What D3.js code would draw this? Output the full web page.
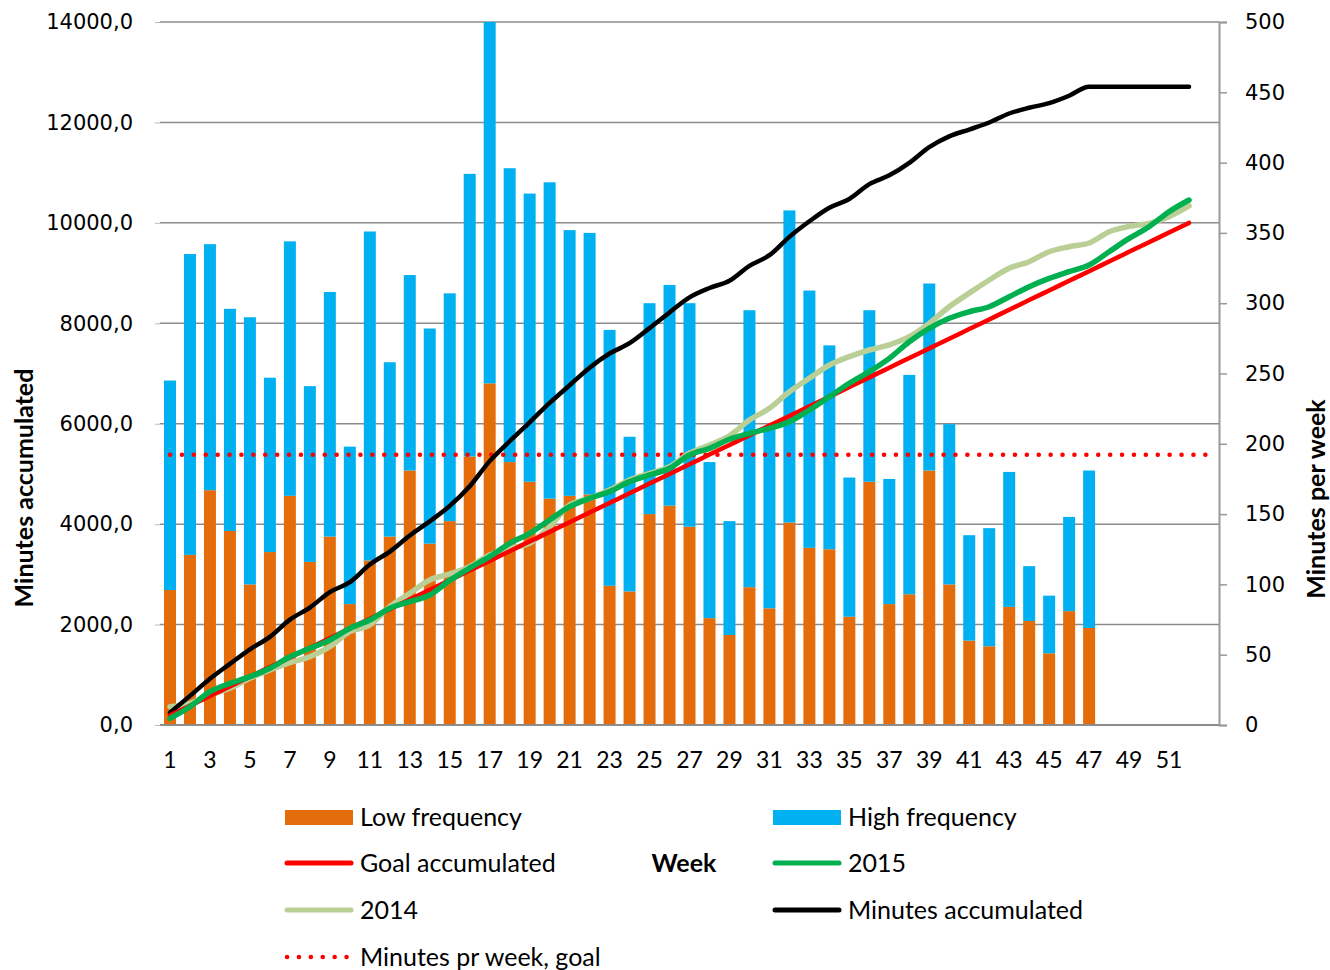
<!DOCTYPE html>
<html>
<head>
<meta charset="utf-8">
<script src="https://cdn.jsdelivr.net/npm/d3@7"></script>
<style>
  body { margin:0; background:#fff; }
  svg text { fill:#000; }
</style>
</head>
<body>
<div id="chart"></div>
<script>
// weeks 1..53 (53 is an empty slot, no label)
var weeks = d3.range(1, 54)
var weekLabels = weeks.map(w => (w % 2 === 1 && w < 53) ? String(w) : "")

// minutes per week (right axis)
var lowFreq = [96,121,167,138,100,123,163,116,134,86, 117,134,181,129,145,191,243,187,173,161,
  163,164,99,95,150,156,141,76,64,98, 83,144,126,125,77,173,86,93,181,100, 60,56,84,74,51,81,69]
var highFreq = [149,214,175,158,190,124,181,125,174,112, 234,124,139,153,162,201,257,209,205,225,
  189,186,182,110,150,157,159,111,81,197, 129,222,183,145,99,122,89,156,133,114, 75,84,96,39,41,67,112]
var weeklyGoal = 192.3

// accumulated minutes (left axis)
var goalAcc = [192,385,577,769,962,1154,1346,1538,1731,1923, 2115,2308,2500,2692,2885,3077,3269,3462,3654,3846,
  4038,4231,4423,4615,4808,5000,5192,5385,5577,5769, 5962,6154,6346,6538,6731,6923,7115,7308,7500,7692,
  7885,8077,8269,8462,8654,8846,9038,9231,9423,9615, 9808,10000]
var acc2015 = [133,365,663,829,962,1129,1360,1527,1693,1925, 2091,2324,2456,2589,2880,3127,3353,3618,3817,4082,
  4348,4514,4647,4846,4979,5112,5377,5510,5690,5808, 5908,6040,6273,6539,6805,7037,7302,7633,7899,8099,
  8230,8330,8529,8728,8894,9029,9161,9425,9690,9923, 10222,10455]
var acc2014 = [365,432,597,731,930,1095,1241,1360,1560,1858, 1991,2357,2623,2888,3008,3153,3386,3518,3618,3949,
  4381,4514,4680,4879,5012,5145,5411,5576,5760,6074, 6307,6637,6904,7169,7335,7468,7568,7733,7999,8330,
  8600,8862,9095,9227,9425,9525,9599,9823,9930,9990, 10123,10336]
var minutesAcc = [245,580,922,1218,1508,1755,2098,2339,2647,2844, 3196,3454,3773,4056,4363,4755,5255,5651,6029,6414,
  6766,7116,7398,7603,7903,8216,8516,8703,8848,9144, 9356,9721,10031,10301,10476,10772,10946,11195,11509,11723,
  11859,11999,12178,12292,12384,12532,12713,12713,12713,12713, 12713,12713]

var leftTicks = d3.range(0, 14001, 2000)
var rightTicks = d3.range(0, 501, 50)

var W = 1330, H = 970
var m = {top:22, right:111, bottom:245, left:160}
var pw = W - m.left - m.right, ph = H - m.top - m.bottom

var svg = d3.select("#chart").append("svg")
    .attr("width", W).attr("height", H)
var g = svg.append("g").attr("transform", `translate(${m.left},${m.top})`)

var x = d3.scaleBand().domain(weeks).range([0, pw]).paddingInner(0.4).paddingOuter(0.2)
var yL = d3.scaleLinear().domain([0, 14000]).range([ph, 0])
var yR = d3.scaleLinear().domain([0, 500]).range([ph, 0])
var cx = w => x(w) + x.bandwidth() / 2

var tickFont = "'DejaVu Sans', Verdana, sans-serif"
var textFont = "Lato, 'Open Sans', sans-serif"

// gridlines
g.append("g")
  .selectAll("line").data(leftTicks.slice(1)).join("line")
    .attr("x1", 0).attr("x2", pw)
    .attr("y1", d => yL(d)).attr("y2", d => yL(d))
    .attr("stroke", "#8c8c8c").attr("stroke-width", 1.5)

// left axis (ticks only)
var axL = g.append("g").call(d3.axisLeft(yL).tickValues(leftTicks).tickSize(5).tickPadding(22)
    .tickFormat(d => d3.format(".1f")(d).replace(".", ",")))
axL.select(".domain").remove()
axL.selectAll(".tick line").attr("stroke", "#bbb")
axL.selectAll(".tick text").style("font-family", tickFont).style("font-size", "21px")

// stacked bars (right axis)
var bars = g.append("g")
bars.selectAll("rect.low").data(lowFreq).join("rect").attr("class", "low")
    .attr("x", (d, i) => x(weeks[i])).attr("width", x.bandwidth())
    .attr("y", d => yR(d)).attr("height", d => yR(0) - yR(d))
    .attr("fill", "#E46C0A")
bars.selectAll("rect.high").data(highFreq).join("rect").attr("class", "high")
    .attr("x", (d, i) => x(weeks[i])).attr("width", x.bandwidth())
    .attr("y", (d, i) => yR(d + lowFreq[i])).attr("height", d => yR(0) - yR(d))
    .attr("fill", "#00B0F0")

// x axis line + labels
g.append("line").attr("x1", 0).attr("x2", pw).attr("y1", ph).attr("y2", ph)
    .attr("stroke", "#8c8c8c").attr("stroke-width", 2)
var axX = g.append("g").attr("transform", `translate(0,${ph})`)
    .call(d3.axisBottom(x).tickSize(0).tickPadding(27).tickFormat((d, i) => weekLabels[i]))
axX.select(".domain").remove()
axX.selectAll(".tick text").style("font-family", textFont).style("font-size", "23px")

// right axis
var axR = g.append("g").attr("transform", `translate(${pw},0)`)
    .call(d3.axisRight(yR).tickValues(rightTicks).tickSize(8).tickPadding(18))
axR.select(".domain").attr("stroke", "#999").attr("stroke-width", 2)
axR.selectAll(".tick line").attr("stroke", "#999").attr("stroke-width", 1.5)
axR.selectAll(".tick text").style("font-family", tickFont).style("font-size", "21px")

// dotted weekly goal
g.append("path").datum(weeks)
    .attr("fill", "none").attr("stroke", "#FF0000").attr("stroke-width", 4.5)
    .attr("stroke-linecap", "round").attr("stroke-dasharray", "0.1,11.8")
    .attr("d", d3.line().x(w => cx(w)).y(() => yR(weeklyGoal)))

// accumulated lines
var line = d3.line().x((d, i) => cx(weeks[i])).y(d => yL(d)).curve(d3.curveMonotoneX)
var series = [
  {data: acc2014, color: "#B9CF96", w: 5.5},
  {data: minutesAcc, color: "#000000", w: 4.5},
  {data: goalAcc, color: "#FF0000", w: 4.5},
  {data: acc2015, color: "#00B050", w: 5.5}
]
series.forEach(s => {
  g.append("path").datum(s.data)
    .attr("fill", "none").attr("stroke", s.color).attr("stroke-width", s.w)
    .attr("stroke-linejoin", "round").attr("stroke-linecap", "round")
    .attr("d", line)
})

// axis titles
svg.append("text").attr("transform", "translate(33,488) rotate(-90)")
    .attr("text-anchor", "middle").style("font-family", textFont).style("font-weight", "bold")
    .style("font-size", "25px").text("Minutes accumulated")
svg.append("text").attr("transform", "translate(1325,499) rotate(-90)")
    .attr("text-anchor", "middle").style("font-family", textFont).style("font-weight", "bold")
    .style("font-size", "25px").text("Minutes per week")

// legend
var legendItems = [
  {label:"Low frequency", type:"rect", color:"#E46C0A", col:0, row:0},
  {label:"High frequency", type:"rect", color:"#00B0F0", col:1, row:0},
  {label:"Goal accumulated", type:"line", color:"#FF0000", col:0, row:1},
  {label:"2015", type:"line", color:"#00B050", col:1, row:1},
  {label:"2014", type:"line", color:"#B9CF96", col:0, row:2},
  {label:"Minutes accumulated", type:"line", color:"#000000", col:1, row:2},
  {label:"Minutes pr week, goal", type:"dot", color:"#FF0000", col:0, row:3}
]
var colX = [285, 773], rowY = [817, 863, 910, 957]
var lg = svg.append("g")
legendItems.forEach(it => {
  var lx = colX[it.col], ly = rowY[it.row]
  if (it.type === "rect")
    lg.append("rect").attr("x", lx).attr("y", ly - 7).attr("width", 68).attr("height", 15).attr("fill", it.color)
  else if (it.type === "line")
    lg.append("line").attr("x1", lx + 2).attr("x2", lx + 66).attr("y1", ly).attr("y2", ly)
      .attr("stroke", it.color).attr("stroke-width", 5).attr("stroke-linecap", "round")
  else
    lg.append("line").attr("x1", lx + 2).attr("x2", lx + 64).attr("y1", ly).attr("y2", ly)
      .attr("stroke", it.color).attr("stroke-width", 4.5).attr("stroke-linecap", "round")
      .attr("stroke-dasharray", "0.1,11.8")
  lg.append("text").attr("x", lx + 75).attr("y", ly).attr("dy", "0.35em")
    .style("font-family", textFont).style("font-size", "25px").text(it.label)
})
svg.append("text").attr("x", 684).attr("y", 863).attr("dy", "0.35em").attr("text-anchor", "middle")
    .style("font-family", textFont).style("font-weight", "bold").style("font-size", "25px").text("Week")
</script>
</body>
</html>
